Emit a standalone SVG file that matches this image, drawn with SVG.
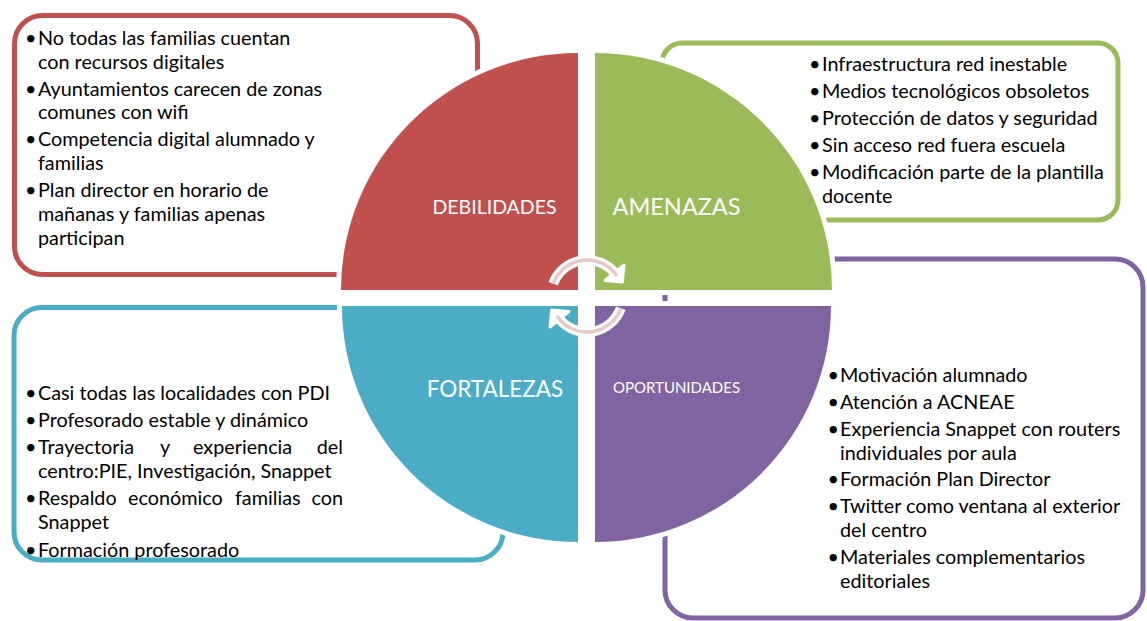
<svg xmlns="http://www.w3.org/2000/svg" width="1147" height="621" viewBox="0 0 1147 621">
<style>
.box{fill:#fff;stroke-width:5}
.q{stroke:#fff;stroke-width:10;stroke-linejoin:miter;paint-order:stroke}
.t{font-family:Lato,"Liberation Sans",sans-serif;font-size:19.8px;fill:#000}
.lab{font-family:Lato,"Liberation Sans",sans-serif;font-weight:400;fill:#fff;text-anchor:middle}
.aw{fill:none;stroke:#fff;stroke-width:10}
.ap{fill:none;stroke:#E8C8C8;stroke-width:3.5}
</style>
<rect width="1147" height="621" fill="#fff"/>
<g id="box-debilidades">
<rect class="box" x="14.5" y="15.5" width="463" height="259" rx="28" stroke="#C0504D"/>
<text class="t"><tspan x="25" y="45">•</tspan><tspan x="38" y="45">No todas las familias cuentan</tspan><tspan x="38" y="68.5">con recursos digitales</tspan><tspan x="25" y="95.5">•</tspan><tspan x="38" y="95.5">Ayuntamientos carecen de zonas</tspan><tspan x="38" y="119">comunes con wifi</tspan><tspan x="25" y="146">•</tspan><tspan x="38" y="146">Competencia digital alumnado y</tspan><tspan x="38" y="170">familias</tspan><tspan x="25" y="197">•</tspan><tspan x="38" y="197">Plan director en horario de</tspan><tspan x="38" y="220.5">mañanas y familias apenas</tspan><tspan x="38" y="244.5">participan</tspan></text>
</g>
<g id="box-amenazas">
<rect class="box" x="662" y="43" width="456" height="177" rx="20" stroke="#9BBB59" stroke-width="6"/>
<text class="t"><tspan x="809" y="71">•</tspan><tspan x="822" y="71">Infraestructura red inestable</tspan><tspan x="809" y="98">•</tspan><tspan x="822" y="98">Medios tecnológicos obsoletos</tspan><tspan x="809" y="125">•</tspan><tspan x="822" y="125">Protección de datos y seguridad</tspan><tspan x="809" y="152">•</tspan><tspan x="822" y="152">Sin acceso red fuera escuela</tspan><tspan x="809" y="179">•</tspan><tspan x="822" y="179">Modificación parte de la plantilla</tspan><tspan x="822" y="202.5">docente</tspan></text>
</g>
<g id="box-oportunidades">
<rect class="box" x="665" y="259" width="478" height="359" rx="28" stroke="#8064A2"/>
<text class="t"><tspan x="827.5" y="382">•</tspan><tspan x="840" y="382">Motivación alumnado</tspan><tspan x="827.5" y="409">•</tspan><tspan x="840" y="409">Atención a ACNEAE</tspan><tspan x="827.5" y="436">•</tspan><tspan x="840" y="436">Experiencia Snappet con routers</tspan><tspan x="840" y="459.5">individuales por aula</tspan><tspan x="827.5" y="486">•</tspan><tspan x="840" y="486">Formación Plan Director</tspan><tspan x="827.5" y="513">•</tspan><tspan x="840" y="513">Twitter como ventana al exterior</tspan><tspan x="840" y="537">del centro</tspan><tspan x="827.5" y="564">•</tspan><tspan x="840" y="564">Materiales complementarios</tspan><tspan x="840" y="587.5">editoriales</tspan></text>
</g>
<g id="box-fortalezas">
<rect class="box" x="14" y="307.5" width="489" height="252.5" rx="28" stroke="#4BACC6"/>
<text class="t"><tspan x="25" y="399.5">•</tspan><tspan x="38" y="399.5">Casi todas las localidades con PDI</tspan><tspan x="25" y="426.5">•</tspan><tspan x="38" y="426.5">Profesorado estable y dinámico</tspan><tspan x="25" y="454">•</tspan><tspan x="38" y="454">Trayectoria</tspan><tspan x="160" y="454">y</tspan><tspan x="193" y="454">experiencia</tspan><tspan x="343" y="454" text-anchor="end">del</tspan><tspan x="38" y="477.5">centro:PIE, Investigación, Snappet</tspan><tspan x="25" y="505">•</tspan><tspan x="38" y="505">Respaldo</tspan><tspan x="128" y="505">económico</tspan><tspan x="235" y="505">familias</tspan><tspan x="343" y="505" text-anchor="end">con</tspan><tspan x="38" y="528.5">Snappet</tspan><tspan x="25" y="556.5">•</tspan><tspan x="38" y="556.5">Formación profesorado</tspan></text>
</g>
<g id="quadrant-debilidades">
<path class="q" d="M578,290 L341,290 A237,237 0 0 1 578,53 Z" fill="#C0504D"/>
<text class="lab" x="494.5" y="214" font-size="19.5">DEBILIDADES</text>
</g>
<g id="quadrant-amenazas">
<path class="q" d="M595,290 L595,53 A237,237 0 0 1 832,290 Z" fill="#9BBB59"/>
<text class="lab" x="676.5" y="215" font-size="23.5">AMENAZAS</text>
</g>
<g id="quadrant-fortalezas">
<path class="q" d="M578,306 L578,542 A236,236 0 0 1 342,306 Z" fill="#4BACC6"/>
<text class="lab" x="495" y="397" font-size="22.5">FORTALEZAS</text>
</g>
<g id="quadrant-oportunidades">
<path class="q" d="M595,306 L831,306 A236,236 0 0 1 595,542 Z" fill="#8064A2"/>
<text class="lab" x="676.5" y="393" font-size="15">OPORTUNIDADES</text>
</g>
<g id="connectors">
<path class="aw" d="M553.2,283.7 A36,36 0 0 1 614.6,272.9"/>
<polygon points="622.3,282.1 624,265 605,280.5" fill="#fff" stroke="#fff" stroke-width="3" stroke-linejoin="round"/>
<path class="ap" d="M553.2,283.7 A36,36 0 0 1 617,276"/>
<path class="aw" d="M620.8,308.3 A36,36 0 0 1 559.4,319.1"/>
<polygon points="551.7,309.9 550,327 569,311.5" fill="#fff" stroke="#fff" stroke-width="3" stroke-linejoin="round"/>
<path class="ap" d="M620.8,308.3 A36,36 0 0 1 557,316"/>
</g>
</svg>
